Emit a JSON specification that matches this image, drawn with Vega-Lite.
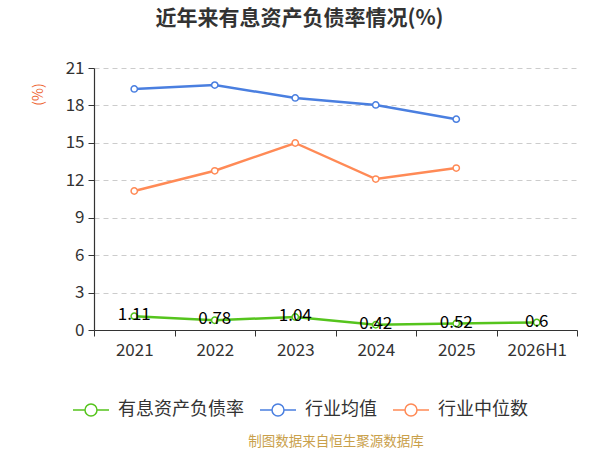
{
  "$schema": "https://vega.github.io/schema/vega-lite/v6.json",
  "width": 483,
  "height": 262,
  "autosize": "none",
  "padding": {"left": 94, "top": 68, "right": 23, "bottom": 120},
  "background": "white",
  "title": {
    "text": "近年来有息资产负债率情况(%)",
    "anchor": "middle",
    "dx": -36,
    "offset": 30,
    "fontSize": 21,
    "fontWeight": "bold",
    "color": "#333333",
    "font": "Noto Sans CJK SC"
  },
  "config": {
    "font": "Noto Sans CJK SC",
    "view": {"stroke": null}
  },
  "data": {
    "values": [
      {"year": "2021", "series": "有息资产负债率", "value": 1.11},
      {"year": "2022", "series": "有息资产负债率", "value": 0.78},
      {"year": "2023", "series": "有息资产负债率", "value": 1.04},
      {"year": "2024", "series": "有息资产负债率", "value": 0.42},
      {"year": "2025", "series": "有息资产负债率", "value": 0.52},
      {"year": "2026H1", "series": "有息资产负债率", "value": 0.6},
      {"year": "2021", "series": "行业均值", "value": 19.32},
      {"year": "2022", "series": "行业均值", "value": 19.63},
      {"year": "2023", "series": "行业均值", "value": 18.6},
      {"year": "2024", "series": "行业均值", "value": 18.04},
      {"year": "2025", "series": "行业均值", "value": 16.9},
      {"year": "2021", "series": "行业中位数", "value": 11.14},
      {"year": "2022", "series": "行业中位数", "value": 12.76},
      {"year": "2023", "series": "行业中位数", "value": 14.99},
      {"year": "2024", "series": "行业中位数", "value": 12.1},
      {"year": "2025", "series": "行业中位数", "value": 12.98}
    ]
  },
  "encoding": {
    "x": {
      "field": "year",
      "type": "ordinal",
      "sort": null,
      "scale": {"type": "band", "paddingInner": 0, "paddingOuter": 0},
      "axis": {
        "title": "制图数据来自恒生聚源数据库",
        "titleColor": "#c9a04a",
        "titleFontSize": 13.5,
        "titleFontWeight": "normal",
        "titlePadding": 76,
        "labelAngle": 0,
        "labelFontSize": 17,
        "labelColor": "#333333",
        "labelPadding": 6,
        "domainColor": "#333333",
        "domainWidth": 1.2,
        "tickColor": "#333333",
        "tickSize": 6,
        "tickBand": "extent",
        "grid": false
      }
    },
    "y": {
      "field": "value",
      "type": "quantitative",
      "scale": {"domain": [0, 21], "nice": false},
      "axis": {
        "values": [0, 3, 6, 9, 12, 15, 18, 21],
        "title": "(%)",
        "titleColor": "#ee6633",
        "titleFontSize": 14,
        "titleFontWeight": "normal",
        "titleX": -49,
        "titleY": 26,
        "titleAlign": "center",
        "labelFontSize": 17,
        "labelColor": "#333333",
        "labelPadding": 4,
        "domainColor": "#333333",
        "domainWidth": 1.2,
        "tickColor": "#333333",
        "tickSize": 6,
        "grid": true,
        "gridColor": "#cccccc",
        "gridDash": [5, 4],
        "gridWidth": 1
      }
    },
    "color": {
      "field": "series",
      "type": "nominal",
      "scale": {
        "domain": ["有息资产负债率", "行业均值", "行业中位数"],
        "range": ["#55c41d", "#4a7fe0", "#ff8a56"]
      },
      "legend": {
        "orient": "none",
        "legendX": -22,
        "legendY": 323,
        "direction": "horizontal",
        "title": null,
        "labelFontSize": 18,
        "labelColor": "#333333",
        "columnPadding": 13,
        "labelOffset": 8,
        "symbolType": "M-1,0L-0.333,0M0.333,0L1,0M-0.333,0A0.333,0.333,0,1,1,0.333,0A0.333,0.333,0,1,1,-0.333,0Z",
        "symbolSize": 1296,
        "symbolStrokeWidth": 1.5,
        "symbolFillColor": "white"
      }
    }
  },
  "layer": [
    {
      "mark": {"type": "line", "strokeWidth": 2.5}
    },
    {
      "mark": {
        "type": "point",
        "filled": false,
        "fill": "white",
        "size": 40,
        "strokeWidth": 1.5,
        "opacity": 1
      }
    },
    {
      "transform": [{"filter": "datum.series == '有息资产负债率'"}],
      "mark": {
        "type": "text",
        "fontSize": 17,
        "baseline": "middle",
        "dy": -1
      },
      "encoding": {
        "text": {"field": "value", "type": "quantitative"},
        "color": {"value": "black"}
      }
    }
  ]
}
